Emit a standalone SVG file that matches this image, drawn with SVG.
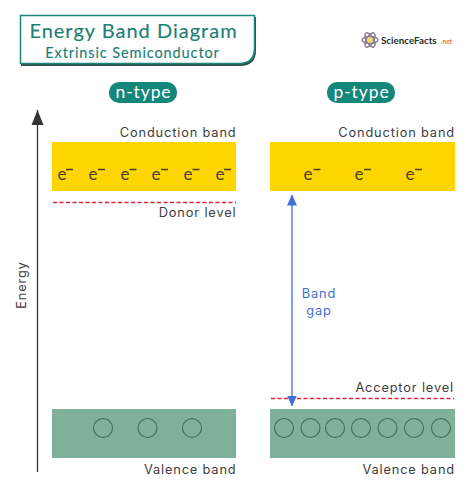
<svg xmlns="http://www.w3.org/2000/svg" width="474" height="492" viewBox="0 0 474 492">
<style>
text{font-family:"Lato","Liberation Sans",sans-serif}
.lab{font-family:"Inter","Lato",sans-serif;font-size:12.800px;fill:#3d3d42;letter-spacing:.85px;text-anchor:end}
.e{font-size:17px;fill:#4a4218;text-anchor:middle}
.sup{stroke:#4a4218;stroke-width:1.300;fill:none}
.pill{fill:#14867a}
.pt{font-size:17.500px;fill:#fff;text-anchor:middle;letter-spacing:.9px}
.yel{fill:#ffd500}
.grn{fill:#7fb09a}
.hole{fill:none;stroke:#3c705c;stroke-width:1.100}
.red{stroke:#e5203a;stroke-width:1.400;stroke-dasharray:4 2.500;fill:none}
.ti{fill:#1c7f76;text-anchor:middle;stroke:#1c7f76;stroke-width:.15}
.gap{font-family:"Inter","Lato",sans-serif;font-size:12.800px;fill:#3f6fd8;text-anchor:middle;letter-spacing:.85px}
</style>
<defs>
<marker id="ab" markerUnits="userSpaceOnUse" markerWidth="12" markerHeight="12" refX="10.500" refY="6" orient="auto-start-reverse"><path d="M0 1L11 6L0 11Z" fill="#3f6fd8"/></marker>
<marker id="ak" markerUnits="userSpaceOnUse" markerWidth="16" markerHeight="14" refX="15" refY="7" orient="auto"><path d="M0 1L15 7L0 13Z" fill="#333337"/></marker>
</defs>
<g id="title">
<path d="M21 17H256V50Q256 66 240 66H21Z" fill="#33504c"/>
<path d="M20.500 15.500H254.500V48Q254.500 63.500 239 63.500H20.500Z" fill="#fff" stroke="#1c857a" stroke-width="1.500"/>
<text class="ti" x="133.500" y="38" font-size="20" letter-spacing="1">Energy Band Diagram</text>
<text class="ti" x="132.500" y="57.500" font-size="14.500" letter-spacing=".9">Extrinsic Semiconductor</text>
</g>
<g id="logo">
<g fill="none" stroke="#8a7a96" stroke-width="1.500">
<ellipse cx="370" cy="40" rx="8" ry="3.500"/>
<ellipse cx="370" cy="40" rx="8" ry="3.500" transform="rotate(60 370 40)"/>
<ellipse cx="370" cy="40" rx="8" ry="3.500" transform="rotate(-60 370 40)"/>
</g>
<circle cx="370" cy="40" r="2.800" fill="#f2dc5a"/>
<text x="381" y="44" font-size="9.800" font-weight="700" fill="#2b2b2b">ScienceFacts</text>
<text x="452" y="44" font-size="6.500" font-weight="700" fill="#e0763a" text-anchor="end">.net</text>
</g>
<g id="n-type"><rect class="pill" x="109" y="82" width="68" height="21" rx="10"/><text class="pt" x="143.500" y="98">n-type</text></g>
<g id="p-type"><rect class="pill" x="327" y="82" width="68" height="21" rx="10"/><text class="pt" x="361.500" y="98">p-type</text></g>
<g id="n-conduction">
<rect class="yel" x="52" y="142" width="184" height="49"/>
<text class="lab" x="236.500" y="137">Conduction band</text>
<text class="e" x="62" y="180">e</text><text class="e" x="93" y="180">e</text><text class="e" x="125" y="180">e</text><text class="e" x="156" y="180">e</text><text class="e" x="188" y="180">e</text><text class="e" x="220" y="180">e</text>
<path class="sup" d="M66 169.500h7M98 169.500h7M129.500 169.500h7M161 169.500h7M192.500 169.500h7M224 169.500h7"/>
</g>
<g id="p-conduction">
<rect class="yel" x="270" y="142" width="185" height="49"/>
<text class="lab" x="455" y="137">Conduction band</text>
<text class="e" x="308" y="180">e</text><text class="e" x="359" y="180">e</text><text class="e" x="410" y="180">e</text>
<path class="sup" d="M313.500 169.500h7M364 169.500h7M415 169.500h7"/>
</g>
<g id="donor"><text class="lab" x="236.500" y="217">Donor level</text></g>
<g id="acceptor"><text class="lab" x="454" y="392">Acceptor level</text></g>
<g id="n-valence">
<rect class="grn" x="52" y="409" width="184" height="49"/>
<circle class="hole" cx="103" cy="428" r="9.500"/><circle class="hole" cx="147.500" cy="428" r="9.500"/><circle class="hole" cx="192" cy="428" r="9.500"/>
<text class="lab" x="236.500" y="474">Valence band</text>
</g>
<g id="p-valence">
<rect class="grn" x="270" y="409" width="185" height="49"/>
<circle class="hole" cx="284" cy="428" r="9.500"/><circle class="hole" cx="310.500" cy="428" r="9.500"/><circle class="hole" cx="335" cy="428" r="9.500"/><circle class="hole" cx="361" cy="428" r="9.500"/><circle class="hole" cx="387.500" cy="428" r="9.500"/><circle class="hole" cx="414" cy="428" r="9.500"/><circle class="hole" cx="441" cy="428" r="9.500"/>
<text class="lab" x="455" y="474">Valence band</text>
</g>
<g id="energy-label"><text class="lab" style="text-anchor:middle" transform="translate(26 285) rotate(-90)">Energy</text></g>
<g id="band-gap-label"><text class="gap" x="319" y="298">Band</text><text class="gap" x="319" y="315">gap</text></g>
<g id="connectors">
<path class="red" d="M53 202.500H236"/>
<path class="red" d="M271 398.500H454"/>
<path d="M37.500 472V110" fill="none" stroke="#333337" stroke-width="1.300" marker-end="url(#ak)"/>
<path d="M292 195V406" fill="none" stroke="#3f6fd8" stroke-width="1.300" marker-start="url(#ab)" marker-end="url(#ab)"/>
</g>
</svg>
